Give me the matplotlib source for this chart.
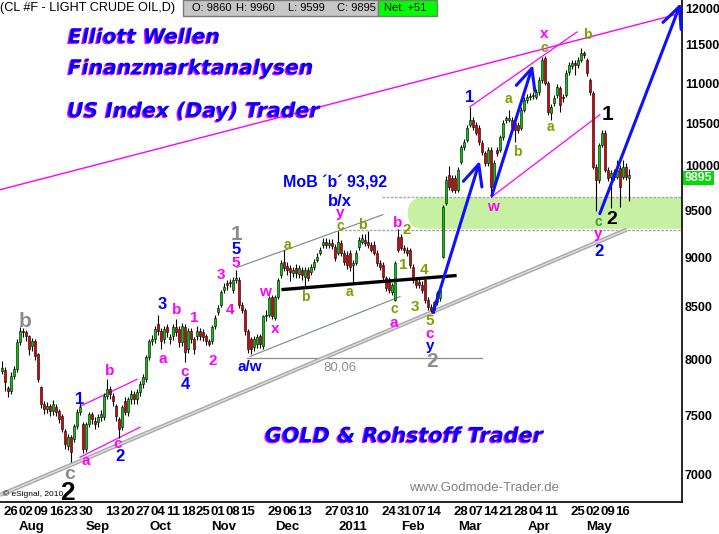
import numpy as np
import pandas as pd
import matplotlib
matplotlib.use("Agg")
import matplotlib.pyplot as plt
from matplotlib.patches import Rectangle, FancyBboxPatch
from matplotlib import transforms
import matplotlib.patheffects as pe

# ---------------- data ----------------
start_date = "2010-07-21"
end_date = "2011-05-18"
holidays = ["2010-09-06", "2010-11-25", "2010-12-24", "2011-01-17", "2011-02-21", "2011-04-22"]

opens = [7888, 7897, 7735, 7708, 7842, 7906, 8156, 8260, 8250, 8212,
         8118, 8165, 8043, 7744, 7593, 7550, 7576, 7532, 7567, 7532,
         7489, 7361, 7234, 7310, 7293, 7403, 7524, 7420, 7209, 7420,
         7506, 7446, 7437, 7480, 7480, 7663, 7726, 7663, 7576, 7463,
         7395, 7620, 7524, 7637, 7681, 7637, 7699, 7770, 7815, 8016,
         8165, 8184, 8327, 8260, 8184, 8298, 8184, 8212, 8298, 8279,
         8156, 8298, 8090, 8260, 8184, 8212, 8260, 8250, 8212, 8165,
         8165, 8308, 8452, 8521, 8670, 8740, 8750, 8670, 8770, 8770,
         8521, 8472, 8260, 8184, 8109, 8137, 8212, 8118, 8404, 8423,
         8600, 8394, 8600, 8821, 8955, 8913, 8893, 8842, 8893, 8831,
         8872, 8801, 8872, 8852, 8903, 8975, 9048, 9131, 9163, 9131,
         9152, 9110, 9048, 9152, 9048, 9027, 9048, 8924, 8944, 9110,
         9163, 9184, 9163, 9131, 9131, 9048, 8944, 8924, 8790, 8770,
         8650, 8570, 9216, 9216, 9100, 9079, 9079, 8903, 8770, 8750,
         8720, 8770, 8570, 8501, 8472, 8541, 8590, 9006, 9585, 9900,
         9865, 9865, 9729, 10050, 10224, 10307, 10487, 10548, 10487, 10451,
         10271, 10154, 10037, 10189, 9763, 10189, 10189, 10343, 10548, 10548,
         10548, 10511, 10487, 10451, 10670, 10794, 10831, 10844, 10831, 10894,
         11046, 11329, 11008, 10633, 10757, 10857, 10944, 10831, 10857, 11149,
         11226, 11265, 11239, 11303, 11393, 11303, 11046, 10882, 9991, 9842,
         10248, 10391, 9957, 9876, 9934, 9876, 9980, 9876, 9991, 9860]
closes = [7915, 7788, 7708, 7842, 7906, 8156, 8260, 8250, 8212, 8090,
          8165, 8025, 7815, 7593, 7550, 7576, 7532, 7593, 7524, 7463,
          7378, 7251, 7310, 7184, 7403, 7524, 7567, 7209, 7420, 7506,
          7463, 7420, 7480, 7506, 7663, 7726, 7681, 7620, 7489, 7378,
          7567, 7524, 7637, 7681, 7637, 7699, 7770, 7833, 8016, 8165,
          8184, 8279, 8260, 8165, 8279, 8250, 8203, 8298, 8250, 8156,
          8308, 8062, 8260, 8184, 8090, 8260, 8212, 8203, 8165, 8137,
          8298, 8394, 8491, 8650, 8700, 8720, 8740, 8770, 8790, 8521,
          8472, 8260, 8090, 8090, 8184, 8203, 8137, 8404, 8423, 8590,
          8404, 8600, 8770, 8944, 8893, 8872, 8852, 8872, 8842, 8893,
          8821, 8872, 8790, 8903, 8955, 9006, 9079, 9163, 9131, 9152,
          9121, 8996, 9163, 9048, 8955, 8924, 8903, 8944, 9048, 9184,
          9205, 9152, 9131, 9079, 9048, 8944, 8903, 8801, 8690, 8670,
          8720, 8944, 9079, 9100, 9079, 9048, 8924, 8770, 8720, 8720,
          8670, 8570, 8501, 8472, 8541, 8640, 8670, 9541, 9842, 9763,
          9729, 9729, 9957, 10224, 10283, 10451, 10548, 10463, 10391, 10283,
          10165, 10037, 10189, 9763, 10037, 10154, 10343, 10512, 10572, 10572,
          10463, 10427, 10427, 10670, 10794, 10831, 10844, 10857, 10894, 11046,
          11303, 11008, 10646, 10707, 10819, 10957, 10732, 10819, 11136, 11239,
          11265, 11239, 11303, 11393, 11367, 11136, 10894, 9991, 9842, 10248,
          10391, 9957, 9865, 9922, 9876, 9957, 9763, 9991, 9876, 9895]
highs = [7980, 7930, 7760, 7880, 7940, 8190, 8300, 8290, 8270, 8230,
         8200, 8190, 8060, 7760, 7620, 7610, 7600, 7630, 7600, 7550,
         7510, 7380, 7340, 7330, 7420, 7550, 7620, 7440, 7440, 7530,
         7530, 7480, 7510, 7540, 7690, 7815, 7760, 7690, 7600, 7480,
         7590, 7660, 7660, 7720, 7710, 7730, 7800, 7860, 8040, 8190,
         8230, 8310, 8420, 8290, 8310, 8330, 8240, 8330, 8375, 8310,
         8340, 8330, 8290, 8290, 8210, 8310, 8290, 8280, 8240, 8190,
         8320, 8420, 8520, 8670, 8740, 8770, 8780, 8800, 8872, 8800,
         8550, 8490, 8280, 8210, 8220, 8240, 8240, 8420, 8470, 8610,
         8620, 8620, 8790, 8975, 9079, 8950, 8920, 8900, 8930, 8920,
         8900, 8900, 8900, 8930, 8980, 9040, 9110, 9200, 9200, 9190,
         9190, 9140, 9280, 9180, 9080, 9060, 9070, 8970, 9070, 9210,
         9240, 9240, 9280, 9160, 9170, 9070, 8970, 8950, 8810, 8800,
         8740, 8960, 9300, 9240, 9130, 9110, 9100, 8930, 8800, 8780,
         8760, 8800, 8600, 8530, 8560, 8660, 8700, 9560, 9880, 10000,
         9900, 9900, 9990, 10250, 10320, 10480, 10707, 10580, 10520, 10480,
         10300, 10180, 10220, 10220, 10070, 10220, 10370, 10540, 10600, 10670,
         10580, 10540, 10520, 10700, 10830, 10870, 10880, 10890, 10930, 11080,
         11342, 11350, 11030, 10740, 10860, 10990, 10970, 10870, 11170, 11270,
         11300, 11300, 11340, 11461, 11420, 11330, 11070, 10910, 10020, 10270,
         10427, 10420, 9990, 9950, 9970, 10072, 10010, 10070, 10030, 9960]
lows = [7860, 7710, 7660, 7680, 7820, 7880, 8130, 8210, 8170, 8040,
        8080, 7990, 7790, 7560, 7510, 7520, 7490, 7500, 7490, 7430,
        7350, 7210, 7200, 7100, 7270, 7380, 7500, 7180, 7190, 7400,
        7420, 7380, 7400, 7450, 7460, 7640, 7640, 7580, 7450, 7300,
        7370, 7500, 7490, 7600, 7600, 7600, 7670, 7740, 7790, 7990,
        8130, 8150, 8230, 8090, 8150, 8210, 8140, 8180, 8220, 8110,
        8120, 7970, 8060, 8150, 8050, 8180, 8180, 8170, 8130, 8118,
        8140, 8280, 8420, 8500, 8640, 8670, 8700, 8640, 8740, 8490,
        8440, 8230, 8060, 8043, 8080, 8100, 8100, 8090, 8360, 8400,
        8380, 8370, 8580, 8790, 8860, 8820, 8760, 8800, 8790, 8790,
        8770, 8690, 8760, 8820, 8870, 8950, 9020, 9100, 9100, 9100,
        9090, 8960, 9020, 9010, 8920, 8880, 8860, 8750, 8920, 9080,
        9140, 9120, 9100, 9050, 9020, 8910, 8870, 8770, 8660, 8640,
        8620, 8551, 9050, 9070, 9040, 9010, 8890, 8740, 8690, 8690,
        8640, 8540, 8470, 8443, 8440, 8520, 8560, 8996, 9560, 9730,
        9700, 9690, 9700, 10020, 10190, 10280, 10460, 10430, 10360, 10250,
        10130, 10000, 10000, 9651, 9730, 10110, 10160, 10310, 10510, 10520,
        10430, 10280, 10390, 10420, 10640, 10760, 10790, 10800, 10800, 10860,
        11010, 10980, 10610, 10548, 10720, 10820, 10640, 10770, 10830, 11110,
        11190, 11110, 11200, 11270, 11330, 11100, 10860, 9960, 9490, 9800,
        10220, 9930, 9830, 9530, 9840, 9850, 9540, 9850, 9840, 9599]

tick_dates = ["2010-07-26", "2010-08-02", "2010-08-09", "2010-08-16", "2010-08-23", "2010-08-30",
              "2010-09-13", "2010-09-20", "2010-09-27", "2010-10-04", "2010-10-11", "2010-10-18",
              "2010-10-25", "2010-11-01", "2010-11-08", "2010-11-15", "2010-11-29", "2010-12-06",
              "2010-12-13", "2010-12-27", "2011-01-03", "2011-01-10", "2011-01-24", "2011-01-31",
              "2011-02-07", "2011-02-14", "2011-02-28", "2011-03-07", "2011-03-14", "2011-03-21",
              "2011-03-28", "2011-04-04", "2011-04-11", "2011-04-25", "2011-05-02", "2011-05-09",
              "2011-05-16"]
month_starts = ["2010-08-01", "2010-09-01", "2010-10-01", "2010-11-01", "2010-12-01",
                "2011-01-01", "2011-02-01", "2011-03-01", "2011-04-01", "2011-05-01"]
month_labels = ["Aug", "Sep", "Oct", "Nov", "Dec", "2011", "Feb", "Mar", "Apr", "May"]
y_ticks = [7000, 7500, 8000, 8500, 9000, 9500, 10000, 10500, 11000, 11500, 12000]

last_close = 9895
level_low = 8006        # 80,06
level_c_high = 9285     # line from the 'c' high
level_zone_top = 9650

# ---------------- figure ----------------
W, H = 719, 534
fig = plt.figure(figsize=(W / 100, H / 100), dpi=100)
fig.patch.set_facecolor("white")
ax = fig.add_axes([0, 1 - 502 / H, 682 / W, 502 / H])
ax.set_yscale("log")
ax.set_xlim(-0.67, 226.7)
ax.set_ylim(6783, 12113)

FONT = ["Liberation Sans", "DejaVu Sans"]

dates = pd.bdate_range(start_date, end_date)
dates = dates[~dates.isin(pd.to_datetime(holidays))]
idx = np.arange(len(closes))

def didx(d):
    return int(dates.searchsorted(pd.Timestamp(d)))

o = np.array(opens, float); c = np.array(closes, float)
h = np.array(highs, float); l = np.array(lows, float)
up = c >= o
col = np.where(up, "#00cc00", "#e00000")

# green zone (rounded on the left)
p0 = ax.transData.transform((135.3, 9300))
p1 = ax.transData.transform((240, 9640))
zone = FancyBboxPatch((p0[0], p0[1]), p1[0] - p0[0], p1[1] - p0[1],
                      boxstyle="round,pad=0,rounding_size=15",
                      transform=transforms.IdentityTransform(),
                      facecolor="#c8f0a2", edgecolor="none", zorder=1)
ax.add_patch(zone)

# horizontal levels
ax.plot([81.7, 160], [level_low, level_low], color="#8a8a8a", lw=0.9, zorder=2)
ax.plot([112.7, 227], [level_c_high, level_c_high], color="#a8a8a8", lw=1.0, ls=(0, (2, 1)), zorder=2)
ax.plot([126.7, 227], [level_zone_top, level_zone_top], color="#a8a8a8", lw=1.0, ls=(0, (2, 1)), zorder=2)

# support trendline (grey double)
ax.plot([-0.67, 208.3], [6838, 9291], color="#a8a8a8", lw=3.0, zorder=2, solid_capstyle="butt")
ax.plot([-0.67, 208.3], [6838, 9291], color="#dedede", lw=1.0, zorder=2)

# magenta lines
ax.plot([-0.67, 226.7], [9729, 11932], color="#ff00ff", lw=1.0, zorder=2)
ax.plot([156, 191.7], [10707, 11674], color="#ff00ff", lw=0.9, zorder=2)
ax.plot([163.3, 199.3], [9651, 10609], color="#ff00ff", lw=0.9, zorder=2)
ax.plot([26, 45], [7576, 7815], color="#ff00ff", lw=0.9, zorder=2)
ax.plot([26, 46], [7143, 7395], color="#ff00ff", lw=0.9, zorder=2)

# grey channel Nov-Jan
ax.plot([78.3, 127], [8893, 9453], color="#7a8a7a", lw=0.8, zorder=2)
ax.plot([82.7, 132.7], [8025, 8600], color="#7a8a7a", lw=0.8, zorder=2)
# black thick line
ax.plot([93.7, 151], [8670, 8810], color="black", lw=2.4, zorder=5)

# candles
ax.vlines(idx, l, h, color="black", lw=0.8, zorder=3)
body_h = np.maximum(np.abs(c - o), 6)
ax.bar(idx, body_h, bottom=np.minimum(o, c), width=0.75, color=col,
       edgecolor="black", linewidth=0.4, zorder=4)

# blue arrows
arrows = [((143.7, 8443), (159.3, 10060)),
          ((163.3, 9663), (177.0, 11238)),
          ((199.3, 9464), (226.3, 12070))]
for (sx, sy), (tx, ty) in arrows:
    ax.annotate("", xy=(tx, ty), xytext=(sx, sy),
                arrowprops=dict(arrowstyle="->,head_length=0.75,head_width=0.35",
                                color="#1010ff", lw=2.2, mutation_scale=20,
                                shrinkA=0, shrinkB=0), zorder=6, annotation_clip=False)

# wave labels
MAG, BLU, OLV, GRY, BLK, GRN = "#ff00ff", "#0000ff", "#7f9f00", "#8c8c8c", "#000000", "#3c9a3c"
wave_labels = [
    (7.7, 8356, "b", GRY, 15), (26, 7637, "1", BLU, 12), (36, 7888, "b", MAG, 11),
    (28, 7111, "a", MAG, 11), (38.7, 7251, "c", MAG, 11), (39.3, 7151, "2", BLU, 12),
    (22.7, 7005, "c", GRY, 14), (21.7, 6854, "2", BLK, 19),
    (53.3, 8521, "3", BLU, 12), (58.3, 8472, "b", MAG, 11), (64, 8385, "1", MAG, 11),
    (53.7, 7997, "a", MAG, 11), (61, 7879, "c", MAG, 11), (61, 7770, "4", BLU, 12),
    (70.3, 7979, "2", MAG, 11), (73, 8821, "3", MAG, 11), (76, 8472, "4", MAG, 11),
    (78, 8944, "5", MAG, 11), (78, 9079, "5", BLU, 12), (78.3, 9237, "1", GRY, 15),
    (82.7, 7924, "a/w", BLU, 11), (87.7, 8650, "w", MAG, 11), (91, 8279, "x", MAG, 11),
    (95, 9131, "a", OLV, 10), (101, 8600, "b", OLV, 10), (115.7, 8650, "a", OLV, 10),
    (112.7, 9325, "c", OLV, 10), (112.7, 9470, "y", MAG, 11), (112.7, 9600, "b/x", BLU, 12),
    (120, 9345, "b", OLV, 10), (132, 9367, "b", MAG, 11), (135, 9291, "2", OLV, 11),
    (133.7, 8924, "1", OLV, 11), (140.7, 8872, "4", OLV, 11), (130.7, 8480, "c", OLV, 10),
    (130.7, 8340, "a", MAG, 11), (137.7, 8501, "3", OLV, 11), (142.7, 8360, "5", OLV, 11),
    (142.7, 8240, "c", MAG, 11), (142.7, 8120, "y", BLU, 11), (143.3, 7979, "2", GRY, 15),
    (156, 10819, "1", BLU, 12), (169, 10807, "a", OLV, 10), (171.7, 10165, "b", OLV, 10),
    (163.7, 9541, "w", MAG, 11), (182.7, 10463, "a", OLV, 10), (180.7, 11650, "x", MAG, 11),
    (180.7, 11460, "c", OLV, 10), (195, 11634, "b", OLV, 10), (202, 10609, "1", BLK, 15),
    (198.7, 9377, "c", GRN, 10), (203.3, 9399, "2", BLK, 14), (198.7, 9248, "y", MAG, 11),
    (199, 9058, "2", BLU, 12),
]
for lx, ly, t, colr, fs in wave_labels:
    ax.text(lx, ly, t, color=colr, fontsize=fs, fontweight="bold", family=FONT,
            ha="center", va="center", zorder=7, clip_on=False)

ax.text(93.7, 9808, "MoB \u00b4b\u00b4 93,92", color=BLU, fontsize=11.5, fontweight="bold",
        family=FONT, ha="left", va="center", zorder=7)
ax.text(112.7, 7924, "80,06", color="#909090", fontsize=9.5, family=FONT,
        ha="center", va="center", zorder=7)

# axes styling
for s in ["left", "top"]:
    ax.spines[s].set_visible(False)
ax.spines["right"].set_linewidth(1.2)
ax.spines["bottom"].set_linewidth(1.2)
ax.yaxis.tick_right()
ax.set_yticks(y_ticks)
ax.set_yticklabels([str(v) for v in y_ticks], fontsize=9, fontweight="bold", family=FONT)
ax.yaxis.set_minor_locator(matplotlib.ticker.NullLocator())
ax.tick_params(axis="y", length=0, pad=2)

tick_pos = [didx(d) for d in tick_dates]
ax.set_xticks(tick_pos)
ax.set_xticklabels([pd.Timestamp(d).strftime("%d") for d in tick_dates],
                   fontsize=9.5, fontweight="bold", family=FONT)
ax.tick_params(axis="x", length=0, pad=3)
xt = ax.get_xaxis_transform()
for ms, ml in zip(month_starts, month_labels):
    ax.text(didx(ms) + 2, -(527 - 502) / 502, ml, transform=xt, ha="center", va="center",
            fontsize=9.5, fontweight="bold", family=FONT, clip_on=False)

# last price box
bt = transforms.blended_transform_factory(ax.transAxes, ax.transData)
ax.text(1.004, 9860, str(last_close), transform=bt, ha="left", va="center",
        fontsize=9, fontweight="bold", color="white", family=FONT, zorder=8,
        bbox=dict(boxstyle="square,pad=0.1", facecolor="#00dd00", edgecolor="none"))

# ---------------- figure-level texts ----------------
def fx(px):
    return px / W

def fy(py):
    return 1 - py / H

fig.text(fx(0), fy(8), "(CL #F - LIGHT CRUDE OIL,D)", fontsize=9.1, family=FONT,
         ha="left", va="center")
fig.patches.append(Rectangle((fx(183), fy(16)), fx(378) - fx(183), fy(0) - fy(16),
                             transform=fig.transFigure, facecolor="#c6c6c6",
                             edgecolor="#7a7a7a", lw=1))
fig.patches.append(Rectangle((fx(378), fy(16)), fx(437) - fx(378), fy(0) - fy(16),
                             transform=fig.transFigure, facecolor="#00ff00",
                             edgecolor="#7a7a7a", lw=1))
for px, t in [(192, "O: 9860"), (236, "H: 9960"), (288, "L: 9599"), (337, "C: 9895"), (384, "Net: +51")]:
    fig.text(fx(px), fy(8), t, fontsize=8, family=FONT, ha="left", va="center")

shadow = [pe.SimplePatchShadow(offset=(-1.0, -0.8), shadow_rgbFace="#ff00ff", alpha=1.0), pe.Normal()]
for px, py, t, fs in [(68, 43, "Elliott Wellen", 14.6), (68, 74, "Finanzmarktanalysen", 14.6),
                      (67, 117, "US Index (Day) Trader", 14.7), (265, 442, "GOLD & Rohstoff Trader", 14.9)]:
    fig.text(fx(px), fy(py), t, fontsize=fs, fontweight="heavy", fontstyle="italic",
             family="DejaVu Sans", color="#0000ff", ha="left", va="baseline",
             path_effects=shadow, zorder=9)

fig.text(fx(484), fy(488), "www.Godmode-Trader.de", fontsize=9.5, family=FONT,
         color="#808080", ha="center", va="center")
fig.text(fx(3), fy(494), "\u00a9 eSignal, 2010", fontsize=6, family=FONT,
         color="black", ha="left", va="center")

fig.savefig("out.png", dpi=100, facecolor="white")
